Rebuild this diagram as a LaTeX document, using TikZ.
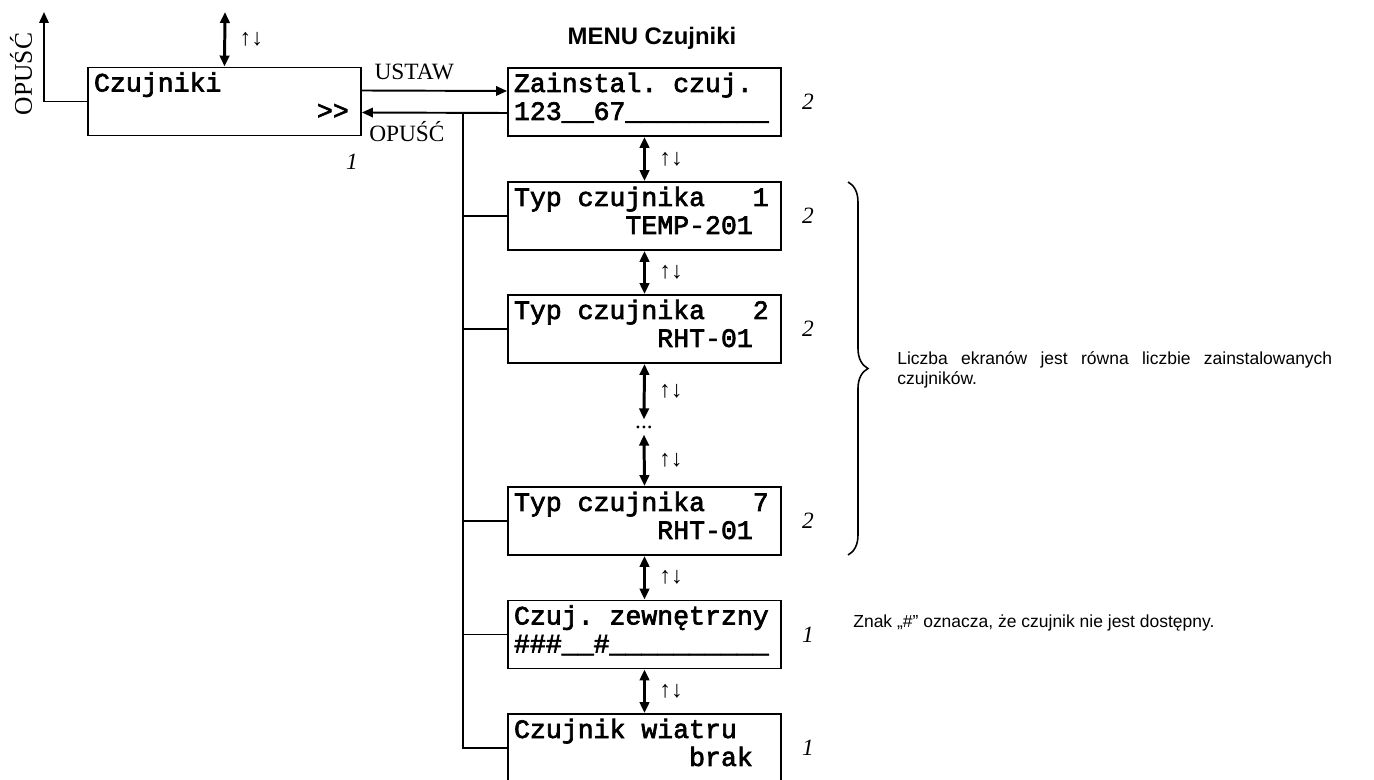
\documentclass[tikz,border=0pt]{standalone}
\usepackage{fontspec}
\setmainfont{Liberation Serif}
\setsansfont{Liberation Sans}
\newfontfamily\lcdfont{Liberation Mono}[FakeBold=2.5]
\usetikzlibrary{positioning,arrows.meta,decorations.pathreplacing}

\begin{document}
\begin{tikzpicture}[x=0.02cm,y=-0.02cm,>={Triangle[length=2.2mm,width=1.9mm]},
  screen/.style={draw,line width=1.1pt,inner xsep=0.12cm,inner ysep=0pt,text width=5.22cm,align=left,
    text height=0.48cm,text depth=0.88cm,font=\lcdfont\fontsize{15.1}{15.9}\selectfont,
    execute at begin node={\spaceskip=0.6em\relax\xspaceskip=0.6em\relax}},
  nav/.style={<->,line width=1.7pt},
  conn/.style={line width=1.1pt},
  lbl/.style={font=\fontsize{13.3}{15}\selectfont},
  num/.style={font=\itshape\fontsize{13.3}{15}\selectfont},
  note/.style={font=\sffamily\fontsize{9.95}{11.3}\selectfont,execute at begin node={\hyphenpenalty=10000\relax}}]
\useasboundingbox (0,0) rectangle (1374,780);

% screens
\node[screen] (czuj) at (224.5,101.5) {Czujniki\\\phantom{00000000000000}>>};
\node[screen] (zain) at (644.5,102) {Zainstal. czuj.\\123\_\_67\_\_\_\_\_\_\_\_\_};
\node[screen] (typ1) at (644.5,216) {Typ czujnika\phantom{000}1\\\phantom{0000000}TEMP-201};
\node[screen] (typ2) at (644.5,329) {Typ czujnika\phantom{000}2\\\phantom{000000000}RHT-01};
\node[screen] (typ7) at (644.5,521) {Typ czujnika\phantom{000}7\\\phantom{000000000}RHT-01};
\node[screen] (zewn) at (644.5,634.5) {Czuj. zewnętrzny\\\#\#\#\_\_\#\_\_\_\_\_\_\_\_\_\_};
\node[screen] (wiatr) at (644.5,748) {Czujnik wiatru\\\phantom{00000000000}brak};
\node[lbl] (more) at (644,427) {...};

\node[font=\sffamily\bfseries\fontsize{13.6}{15}\selectfont] (menu) at (652,38) {MENU Czujniki};

% screen numbers
\node[num] (n0) at (352,162) {1};
\node[num,right=0.28cm of zain] (nz) {2};
\node[num,right=0.28cm of typ1] (n1) {2};
\node[num,right=0.28cm of typ2] (n2) {2};
\node[num,right=0.28cm of typ7] (n7) {2};
\node[num,right=0.28cm of zewn] (ne) {1};
\node[num,right=0.28cm of wiatr] (nw) {1};

% navigation
\coordinate (up) at (225,12);
\coordinate (exit) at (44,12);
\coordinate (bus) at (463,113);
\draw[nav] (up) -- (czuj.north) node[midway,right=0.15cm,lbl]{↑↓};
\draw[conn,->] (czuj.west) -| (exit);
\node[rotate=90,font=\fontsize{14.5}{16}\selectfont] (opexit) at (21,74) {OPUŚĆ};
\draw[conn,->] ([yshift=0.22cm]czuj.east) -- ([yshift=0.22cm]zain.west) node[pos=0.36,above=2pt,lbl]{USTAW};
\draw[conn,->] ([yshift=-0.22cm]zain.west) -- ([yshift=-0.22cm]czuj.east) node[pos=0.69,below=1pt,lbl]{OPUŚĆ};
\draw[conn] (bus) |- (wiatr.west);
\foreach \s in {typ1,typ2,typ7,zewn}
  \draw[conn] (bus |- \s.west) -- (\s.west);
\draw[nav] (zain.south) -- (typ1.north) node[midway,right=0.15cm,lbl]{↑↓};
\draw[nav] (typ1.south) -- (typ2.north) node[midway,right=0.15cm,lbl]{↑↓};
\draw[nav] (typ2.south) -- (more.north) node[midway,right=0.15cm,lbl]{↑↓};
\draw[nav] (more.south) -- (typ7.north) node[midway,right=0.15cm,lbl]{↑↓};
\draw[nav] (typ7.south) -- (zewn.north) node[midway,right=0.15cm,lbl]{↑↓};
\draw[nav] (zewn.south) -- (wiatr.north) node[midway,right=0.15cm,lbl]{↑↓};

% notes
\coordinate (bt) at (848,182);
\coordinate (bb) at (848,555);
\draw[line width=0.9pt,decorate,decoration={brace,amplitude=0.4cm}] (bt) -- (bb);
\node[note,anchor=west,text width=8.7cm,align=justify,inner sep=0pt] (count) at (897,370)
  {Liczba ekranów jest równa liczbie zainstalowanych czujników.};
\node[note,anchor=west,inner sep=0pt] (hash) at (853,623) {Znak „\#” oznacza, że czujnik nie jest dostępny.};
\end{tikzpicture}
\end{document}
